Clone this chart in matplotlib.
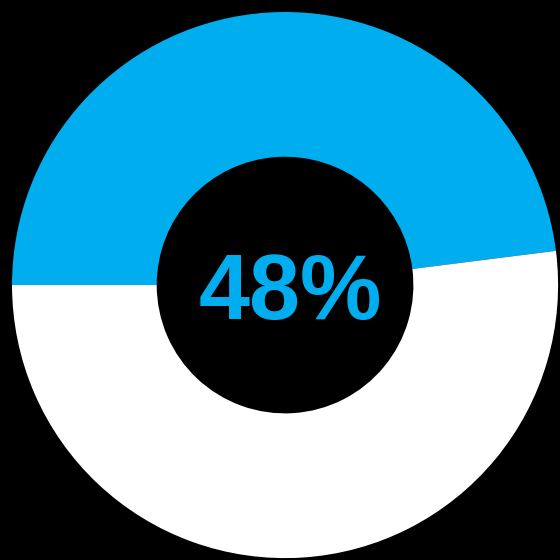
import matplotlib
matplotlib.use("Agg")
import matplotlib.pyplot as plt

labels = ["Yes", "No"]
values = [48, 52]
colors = ["#00AEEF", "#FFFFFF"]
center_text = "48%"

fig = plt.figure(figsize=(5.6, 5.6), dpi=100, facecolor="black")
ax = fig.add_axes([0, 0, 1, 1])
ax.set_facecolor("black")

ax.pie(values, colors=colors, startangle=180, counterclock=False,
       radius=1.0, wedgeprops=dict(width=0.53, edgecolor="none"))

ax.text(0.02, -0.035, center_text, ha="center", va="center",
        fontsize=66, fontweight="bold", color="#00AEEF",
        family=["Liberation Sans", "DejaVu Sans"])

ax.set_xlim(-1.044, 1.007)
ax.set_ylim(-1.007, 1.044)
ax.set_aspect("equal")
ax.axis("off")

fig.savefig("out.png", dpi=100, facecolor="black")
